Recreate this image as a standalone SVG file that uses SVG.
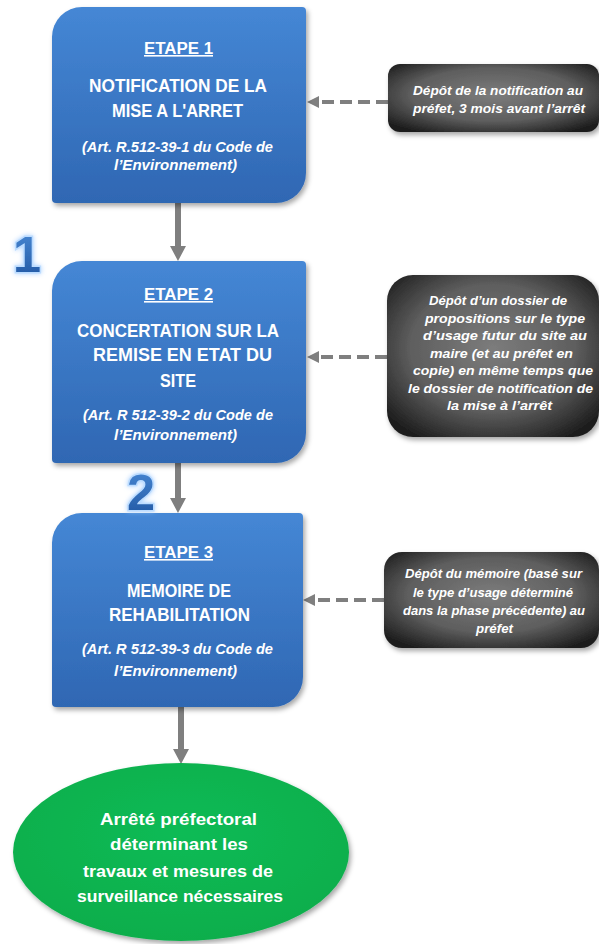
<svg xmlns="http://www.w3.org/2000/svg" width="599" height="944" viewBox="0 0 599 944">
<style>
.step{font-family:"Liberation Sans",Arial,sans-serif;font-weight:bold;fill:#ffffff;text-anchor:middle}
.h{font-size:16px;text-decoration:underline}
.t{font-size:18px}
.ref{font-size:14px;font-style:italic}
.note{font-family:"Liberation Sans",Arial,sans-serif;font-weight:bold;font-style:italic;font-size:13px;fill:#ffffff;text-anchor:middle}
.end{font-family:"Liberation Sans",Arial,sans-serif;font-weight:bold;font-size:17px;fill:#ffffff;text-anchor:middle}
.num{font-family:"Liberation Sans",Arial,sans-serif;font-weight:bold;font-size:50px;fill:url(#numg);stroke:#bcdcff;stroke-width:3;paint-order:stroke}
.vline{stroke:#7f7f7f;stroke-width:6;fill:none}
.dline{stroke:#7f7f7f;stroke-width:4;stroke-dasharray:12 6;fill:none}
.head{fill:#7f7f7f}
</style>
<defs>
<linearGradient id="blue" x1="0" y1="0" x2="0" y2="1">
<stop offset="0" stop-color="#4587d5"/>
<stop offset="1" stop-color="#2f67b3"/>
</linearGradient>
<radialGradient id="gray" cx="0.5" cy="0.45" r="0.65">
<stop offset="0" stop-color="#7c7c7c"/>
<stop offset="0.6" stop-color="#5e5e5e"/>
<stop offset="1" stop-color="#1e1e1e"/>
</radialGradient>
<radialGradient id="green" cx="0.5" cy="0.4" r="0.6">
<stop offset="0" stop-color="#0dbb55"/>
<stop offset="1" stop-color="#0aae4c"/>
</radialGradient>
<linearGradient id="numg" x1="0" y1="0" x2="0" y2="1">
<stop offset="0" stop-color="#4a8ad6"/>
<stop offset="1" stop-color="#1f55a0"/>
</linearGradient>
<filter id="sh" x="-10%" y="-10%" width="125%" height="125%">
<feDropShadow dx="2" dy="3" stdDeviation="2.5" flood-color="#000" flood-opacity="0.35"/>
</filter>
<filter id="glow" x="-30%" y="-30%" width="160%" height="160%">
<feGaussianBlur in="SourceAlpha" stdDeviation="2.5" result="b"/>
<feFlood flood-color="#9fcbff" flood-opacity="0.9"/>
<feComposite in2="b" operator="in" result="g"/>
<feMerge><feMergeNode in="g"/><feMergeNode in="SourceGraphic"/></feMerge>
</filter>
</defs>

<g id="connectors">
<line class="vline" x1="178" y1="203" x2="178" y2="247"/>
<polygon class="head" points="170,246 186,246 178,261"/>
<line class="vline" x1="178" y1="463" x2="178" y2="499"/>
<polygon class="head" points="170,498 186,498 178,513"/>
<line class="vline" x1="181" y1="707" x2="181" y2="750"/>
<polygon class="head" points="173,749 189,749 181,764"/>
<line class="dline" x1="388" y1="102" x2="318" y2="102"/>
<polygon class="head" points="307,102 319,96 319,108"/>
<line class="dline" x1="387" y1="357" x2="318" y2="357"/>
<polygon class="head" points="307,357 319,351 319,363"/>
<line class="dline" x1="384" y1="600" x2="314" y2="600"/>
<polygon class="head" points="303,600 315,594 315,606"/>
</g>

<g id="etape1">
<path d="M82,7 H302 A4,4 0 0 1 306,11 V173 A30,30 0 0 1 276,203 H56 A4,4 0 0 1 52,199 V37 A30,30 0 0 1 82,7 Z" fill="url(#blue)" filter="url(#sh)"/>
<text class="step h" x="178.5" y="54" textLength="69" lengthAdjust="spacingAndGlyphs">ETAPE 1</text>
<text class="step t" x="178" y="92" textLength="178" lengthAdjust="spacingAndGlyphs">NOTIFICATION DE LA</text>
<text class="step t" x="177.5" y="117" textLength="131" lengthAdjust="spacingAndGlyphs">MISE A L'ARRET</text>
<text class="step ref" x="177.5" y="152" textLength="191" lengthAdjust="spacingAndGlyphs">(Art. R.512-39-1 du Code de</text>
<text class="step ref" x="175.5" y="170" textLength="123" lengthAdjust="spacingAndGlyphs">l’Environnement)</text>
</g>

<g id="etape2">
<path d="M82,261 H302 A4,4 0 0 1 306,265 V433 A30,30 0 0 1 276,463 H56 A4,4 0 0 1 52,459 V291 A30,30 0 0 1 82,261 Z" fill="url(#blue)" filter="url(#sh)"/>
<text class="step h" x="178.5" y="300" textLength="69" lengthAdjust="spacingAndGlyphs">ETAPE 2</text>
<text class="step t" x="178" y="337" textLength="202" lengthAdjust="spacingAndGlyphs">CONCERTATION SUR LA</text>
<text class="step t" x="182.5" y="361" textLength="179" lengthAdjust="spacingAndGlyphs">REMISE EN ETAT DU</text>
<text class="step t" x="178" y="387" textLength="36" lengthAdjust="spacingAndGlyphs">SITE</text>
<text class="step ref" x="178" y="420" textLength="190" lengthAdjust="spacingAndGlyphs">(Art. R 512-39-2 du Code de</text>
<text class="step ref" x="175.5" y="440" textLength="123" lengthAdjust="spacingAndGlyphs">l’Environnement)</text>
</g>

<g id="etape3">
<path d="M82,513 H299 A4,4 0 0 1 303,517 V677 A30,30 0 0 1 273,707 H56 A4,4 0 0 1 52,703 V543 A30,30 0 0 1 82,513 Z" fill="url(#blue)" filter="url(#sh)"/>
<text class="step h" x="178.5" y="558" textLength="69" lengthAdjust="spacingAndGlyphs">ETAPE 3</text>
<text class="step t" x="179" y="597" textLength="104" lengthAdjust="spacingAndGlyphs">MEMOIRE DE</text>
<text class="step t" x="179.5" y="621" textLength="141" lengthAdjust="spacingAndGlyphs">REHABILITATION</text>
<text class="step ref" x="177.5" y="654" textLength="191" lengthAdjust="spacingAndGlyphs">(Art. R 512-39-3 du Code de</text>
<text class="step ref" x="175.5" y="676" textLength="123" lengthAdjust="spacingAndGlyphs">l’Environnement)</text>
</g>

<g id="note1">
<rect x="388" y="64" width="211" height="68" rx="12" fill="url(#gray)" filter="url(#sh)"/>
<text class="note" x="498" y="95" textLength="170" lengthAdjust="spacingAndGlyphs">Dépôt de la notification au</text>
<text class="note" x="499" y="113" textLength="172" lengthAdjust="spacingAndGlyphs">préfet, 3 mois avant l’arrêt</text>
</g>

<g id="note2">
<rect x="387" y="275" width="212" height="162" rx="26" fill="url(#gray)" filter="url(#sh)"/>
<text class="note" x="498" y="305" textLength="138" lengthAdjust="spacingAndGlyphs">Dépôt d’un dossier de</text>
<text class="note" x="505" y="322.5" textLength="160" lengthAdjust="spacingAndGlyphs">propositions sur le type</text>
<text class="note" x="505" y="340" textLength="164" lengthAdjust="spacingAndGlyphs">d’usage futur du site au</text>
<text class="note" x="501.5" y="357.5" textLength="143" lengthAdjust="spacingAndGlyphs">maire (et au préfet en</text>
<text class="note" x="503" y="375" textLength="180" lengthAdjust="spacingAndGlyphs">copie) en même temps que</text>
<text class="note" x="500.5" y="392.5" textLength="185" lengthAdjust="spacingAndGlyphs">le dossier de notification de</text>
<text class="note" x="499.5" y="410" textLength="105" lengthAdjust="spacingAndGlyphs">la mise à l’arrêt</text>
</g>

<g id="note3">
<rect x="384" y="552" width="215" height="96" rx="18" fill="url(#gray)" filter="url(#sh)"/>
<text class="note" x="493.5" y="578" textLength="177" lengthAdjust="spacingAndGlyphs">Dépôt du mémoire (basé sur</text>
<text class="note" x="493" y="597" textLength="160" lengthAdjust="spacingAndGlyphs">le type d’usage déterminé</text>
<text class="note" x="494" y="615" textLength="182" lengthAdjust="spacingAndGlyphs">dans la phase précédente) au</text>
<text class="note" x="494.5" y="633" textLength="37" lengthAdjust="spacingAndGlyphs">préfet</text>
</g>

<g id="arrete">
<ellipse cx="181" cy="852" rx="168" ry="89" fill="url(#green)" filter="url(#sh)"/>
<text class="end" x="178.5" y="825" textLength="157" lengthAdjust="spacingAndGlyphs">Arrêté préfectoral</text>
<text class="end" x="179" y="850" textLength="138" lengthAdjust="spacingAndGlyphs">déterminant les</text>
<text class="end" x="178" y="877" textLength="190" lengthAdjust="spacingAndGlyphs">travaux et mesures de</text>
<text class="end" x="180" y="902" textLength="206" lengthAdjust="spacingAndGlyphs">surveillance nécessaires</text>
</g>

<g id="num1" filter="url(#glow)">
<text class="num" x="13" y="272" textLength="28" lengthAdjust="spacingAndGlyphs">1</text>
</g>
<g id="num2" filter="url(#glow)">
<text class="num" x="127" y="510" textLength="28" lengthAdjust="spacingAndGlyphs">2</text>
</g>
</svg>
